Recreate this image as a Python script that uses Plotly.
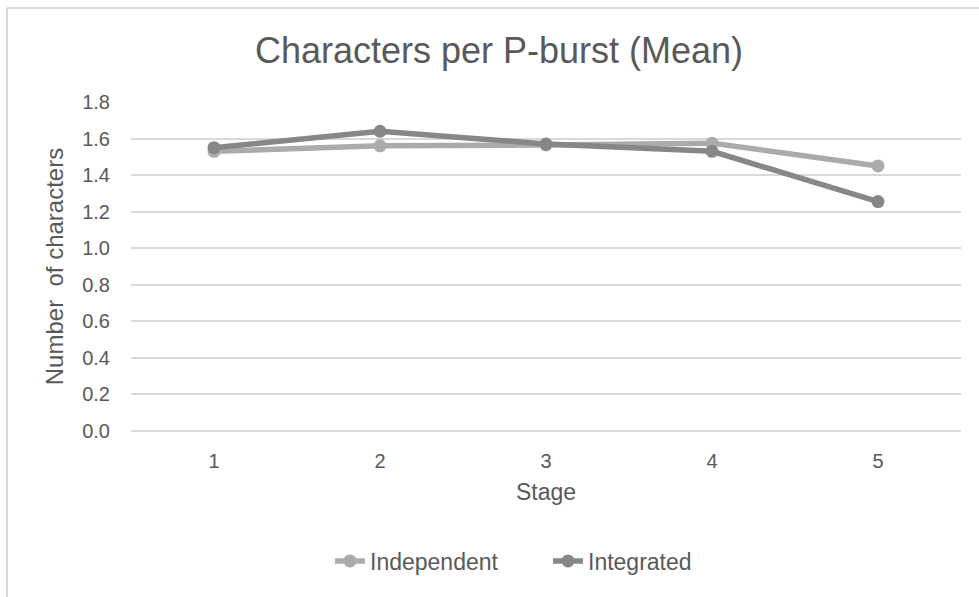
import plotly.graph_objects as go

stages = ["1", "2", "3", "4", "5"]
independent = [1.53, 1.56, 1.565, 1.575, 1.45]
integrated = [1.55, 1.64, 1.57, 1.53, 1.255]
y_ticks = [0.0, 0.2, 0.4, 0.6, 0.8, 1.0, 1.2, 1.4, 1.6, 1.8]

W, H = 979, 597
L, R, T, B = 131, 18, 102, 166
pw, ph = W - L - R, H - T - B

font = "Liberation Sans, Arial, sans-serif"
txt = "#595959"
grid = "#d9d9d9"

fig = go.Figure()
fig.add_trace(go.Scatter(x=stages, y=independent, name="Independent", mode="lines+markers",
                         line=dict(color="#ababab", width=5.5), marker=dict(size=13, color="#ababab")))
fig.add_trace(go.Scatter(x=stages, y=integrated, name="Integrated", mode="lines+markers",
                         line=dict(color="#878787", width=5.5), marker=dict(size=13, color="#878787")))

def px_x(p):
    return (p - L) / pw

def px_y(p):
    return (H - B - p) / ph

fig.update_layout(
    width=W, height=H,
    margin=dict(l=L, r=R, t=T, b=B),
    paper_bgcolor="white", plot_bgcolor="white",
    font=dict(family=font, color=txt),
    title=dict(text="Characters per P-burst (Mean)", x=499 / W,
               xanchor="center", y=1 - 50 / H, yanchor="middle",
               font=dict(size=36, color=txt, family=font)),
    xaxis=dict(type="category", range=[-0.5, 4.5], showgrid=False, showline=False, zeroline=False,
               ticks="", tickfont=dict(size=20, color=txt), ticklabelstandoff=16,
               title=dict(text="Stage", font=dict(size=23, color=txt), standoff=12)),
    yaxis=dict(range=[0, 1.8], tickvals=y_ticks, ticktext=[f"{v:.1f}" for v in y_ticks],
               showgrid=True, gridcolor=grid, gridwidth=1.5, zeroline=True, zerolinecolor=grid,
               zerolinewidth=1.5, showline=False, ticks="", tickfont=dict(size=20, color=txt),
               ticklabelstandoff=20,
               title=dict(text="Number  of characters", font=dict(size=24, color=txt), standoff=11)),
    legend=dict(orientation="h", x=px_x(330), xanchor="left", y=px_y(561), yanchor="middle",
                font=dict(size=23, color=txt), entrywidth=173, entrywidthmode="pixels",
                traceorder="normal"),
    showlegend=True,
    shapes=[
        dict(type="line", xref="paper", yref="paper", x0=px_x(7), x1=px_x(1000),
             y0=px_y(8), y1=px_y(8), line=dict(color=grid, width=2)),
        dict(type="line", xref="paper", yref="paper", x0=px_x(7), x1=px_x(7),
             y0=px_y(8), y1=px_y(620), line=dict(color=grid, width=2)),
    ],
)

fig.write_html("out.html")
